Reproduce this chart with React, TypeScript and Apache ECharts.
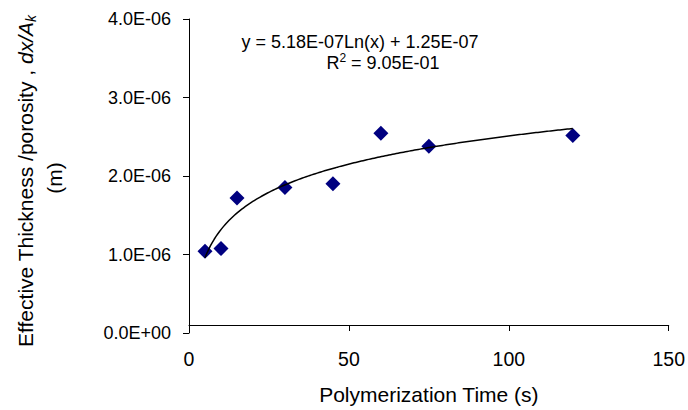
import React, { useEffect, useRef } from "react";
import * as echarts from "echarts";

// Measured points (polymerization time in s, effective thickness/porosity in m)
const timeValues: number[] = [5, 10, 15, 30, 45, 60, 75, 120];
const thicknessValues: number[] = [1.04e-6, 1.075e-6, 1.72e-6, 1.855e-6, 1.9e-6, 2.545e-6, 2.38e-6, 2.515e-6];

// Logarithmic trendline as displayed: y = a*Ln(x) + b
const trendCoefficients: number[] = [5.18e-7, 1.25e-7];
const trendRange: number[] = [5, 120];

const xTicks: number[] = [0, 50, 100, 150];
const yTicks: number[] = [0, 1e-6, 2e-6, 3e-6, 4e-6];

const equationText = "y = 5.18E-07Ln(x) + 1.25E-07";
const r2Value = "9.05E-01";

const FONT = "'Liberation Sans', Arial, sans-serif";

function fmtExp(v: number): string {
  const [m, e] = v.toExponential(1).split("e");
  const n = parseInt(e, 10);
  const sign = n < 0 ? "-" : "+";
  const d = String(Math.abs(n)).padStart(2, "0");
  return `${m}E${sign}${d}`;
}

function buildTrend(): number[][] {
  const pts: number[][] = [];
  const [a, b] = trendCoefficients;
  const [lo, hi] = trendRange;
  const steps = 200;
  for (let i = 0; i <= steps; i++) {
    const x = lo + ((hi - lo) * i) / steps;
    pts.push([x, a * Math.log(x) + b]);
  }
  return pts;
}

export default function App() {
  const ref = useRef<HTMLDivElement>(null);
  useEffect(() => {
    if (!ref.current) return;
    const chart = echarts.init(ref.current, undefined, { renderer: "svg" });
    chart.setOption({
      animation: false,
      backgroundColor: "#ffffff",
      grid: { left: 189, right: 18, top: 19, bottom: 72, containLabel: false },
      xAxis: {
        type: "value",
        min: xTicks[0],
        max: xTicks[xTicks.length - 1],
        interval: 50,
        offset: -8,
        axisLine: { show: true, onZero: false, lineStyle: { color: "#000", width: 1 } },
        axisTick: { show: true, length: 6, lineStyle: { color: "#000" } },
        splitLine: { show: false },
        axisLabel: { color: "#000", fontSize: 19.5, fontFamily: FONT, margin: 24 },
        name: "Polymerization Time (s)",
        nameLocation: "middle",
        nameGap: 59,
        nameTextStyle: { color: "#000", fontSize: 21, fontFamily: FONT },
      },
      yAxis: {
        type: "value",
        min: yTicks[0],
        max: yTicks[yTicks.length - 1],
        interval: 1e-6,
        axisLine: { show: true, lineStyle: { color: "#000", width: 1 } },
        axisTick: { show: true, length: 6, lineStyle: { color: "#000" } },
        splitLine: { show: false },
        axisLabel: {
          color: "#000",
          fontSize: 18,
          fontFamily: FONT,
          margin: 18,
          formatter: (v: number) => fmtExp(v),
        },
      },
      series: [
        {
          type: "line",
          data: buildTrend(),
          showSymbol: false,
          symbol: "none",
          lineStyle: { color: "#000", width: 1.5 },
          z: 3,
          silent: true,
        },
        {
          type: "scatter",
          data: timeValues.map((t, i) => [t, thicknessValues[i]]),
          symbol: "diamond",
          symbolSize: 15,
          itemStyle: { color: "#000080", opacity: 1 },
          z: 2,
        },
      ],
      graphic: [
        {
          type: "text",
          x: 25,
          y: 181,
          rotation: Math.PI / 2,
          style: {
            text: "{n|Effective Thickness /porosity , }{i|dx/A}{s|k}",
            align: "center",
            verticalAlign: "middle",
            fill: "#000",
            rich: {
              n: { fontSize: 21, fontFamily: FONT, fill: "#000" },
              i: { fontSize: 21, fontFamily: FONT, fontStyle: "italic", fill: "#000" },
              s: { fontSize: 14, fontFamily: FONT, fontStyle: "italic", fill: "#000", padding: [12, 0, 0, 0] },
            },
          },
        },
        {
          type: "text",
          x: 54,
          y: 178,
          rotation: Math.PI / 2,
          style: {
            text: "(m)",
            font: `21px ${FONT}`,
            align: "center",
            verticalAlign: "middle",
            fill: "#000",
          },
        },
        {
          type: "text",
          x: 360,
          y: 42,
          style: {
            text: equationText,
            font: `18px ${FONT}`,
            align: "center",
            verticalAlign: "middle",
            fill: "#000",
          },
        },
        {
          type: "text",
          x: 383,
          y: 63,
          style: {
            text: `{n|R}{s|2}{n| = ${r2Value}}`,
            align: "center",
            verticalAlign: "middle",
            fill: "#000",
            rich: {
              n: { fontSize: 18, fontFamily: FONT, fill: "#000" },
              s: { fontSize: 12, fontFamily: FONT, fill: "#000", padding: [0, 0, 10, 0] },
            },
          },
        },
      ],
    });
    return () => chart.dispose();
  }, []);
  return (
    <div
      ref={ref}
      style={{ position: "absolute", left: 0, top: 0, width: 688, height: 410, overflow: "hidden" }}
    />
  );
}
